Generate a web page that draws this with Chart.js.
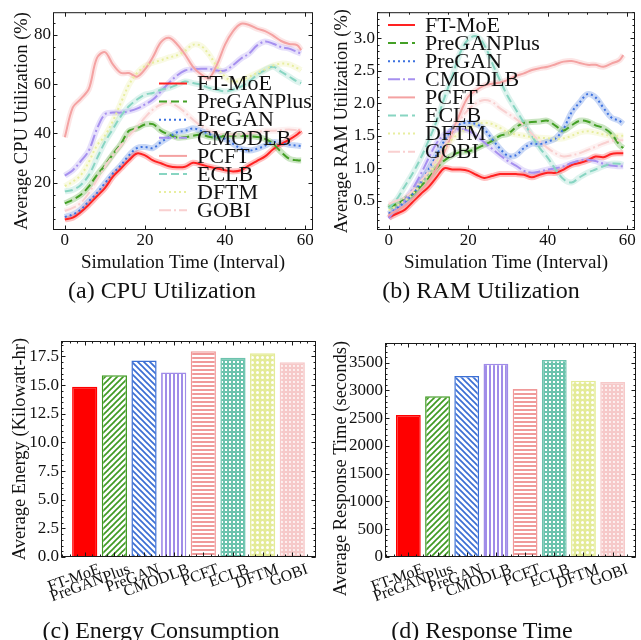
<!DOCTYPE html>
<html><head><meta charset="utf-8">
<script src="https://cdn.jsdelivr.net/npm/chart.js@4.4.0/dist/chart.umd.min.js"></script>
<style>
html,body{margin:0;padding:0;background:#fff;}
#wrap{position:relative;width:641px;height:640px;overflow:hidden;background:#fff;}
canvas{position:absolute;}
.cap{position:absolute;font-family:'Liberation Serif','Times New Roman',serif;font-size:24px;line-height:24px;color:#111;white-space:nowrap;transform:translateX(-50%);}
</style></head><body>
<div id="wrap">
<canvas id="cA" width="320" height="280" style="left:0;top:0;width:320px;height:280px"></canvas>
<canvas id="cB" width="321" height="280" style="left:320px;top:0;width:321px;height:280px"></canvas>
<canvas id="cC" width="320" height="320" style="left:0;top:320px;width:320px;height:320px"></canvas>
<canvas id="cD" width="321" height="320" style="left:320px;top:320px;width:321px;height:320px"></canvas>
<div class="cap" style="left:162px;top:278px">(a)&nbsp;CPU Utilization</div>
<div class="cap" style="left:481px;top:278px">(b)&nbsp;RAM Utilization</div>
<div class="cap" style="left:161px;top:618px">(c)&nbsp;Energy Consumption</div>
<div class="cap" style="left:482px;top:618px">(d)&nbsp;Response Time</div>
</div>
<script>
// ---------------- DATA ----------------
const methods = ['FT-MoE','PreGANPlus','PreGAN','CMODLB','PCFT','ECLB','DFTM','GOBI'];
const timeSteps = [0,2,4,6,8,10,12,14,16,18,20,22,24,26,28,30,32,34,36,38,40,42,44,46,48,50,52,54,56,58,59];
const timeTicks = [0,20,40,60];

const cpuFTMoE      = [5.0,5.7,8.0,11.0,14.4,17.7,22.4,25.7,29.0,31.8,31.0,29.0,27.8,26.6,26.2,26.4,28.0,27.3,26.4,25.7,25.0,24.5,25.0,27.0,28.8,30.6,33.5,35.6,37.4,39.5,41.0];
const cpuPreGANPlus = [11.5,13.0,15.0,18.4,23.0,27.0,31.5,35.7,41.0,42.0,43.6,43.7,41.0,39.5,38.3,38.4,39.0,39.5,38.6,38.2,39.0,39.0,39.0,38.8,38.5,37.7,35.7,32.4,29.7,29.0,29.0];
const cpuPreGAN     = [6.0,7.0,9.0,12.4,15.7,19.7,23.7,27.0,31.0,34.0,34.4,34.0,36.4,38.4,40.4,41.0,42.0,41.0,39.7,38.4,37.7,35.7,33.7,33.0,33.7,35.0,36.4,36.0,35.3,35.0,34.8];
const cpuCMODLB     = [22.8,25.0,28.7,33.0,41.7,47.7,48.4,48.4,49.0,50.0,51.7,53.7,57.0,60.5,63.5,65.5,66.0,66.2,66.2,65.5,65.5,67.7,70.4,72.4,75.7,77.3,76.4,75.0,74.4,73.0,72.4];
const cpuPCFT       = [38.4,50.5,54.0,58.0,70.5,73.0,68.0,64.5,64.5,63.0,66.0,71.0,77.0,78.8,76.2,72.0,67.0,64.0,62.5,68.0,76.0,81.5,84.5,84.0,82.5,81.5,79.7,77.5,76.3,75.8,73.8];
const cpuECLB       = [16.4,17.0,19.0,23.0,29.7,36.4,41.7,47.0,51.0,53.7,55.7,56.4,57.7,58.4,59.7,61.0,60.4,59.7,58.4,57.7,57.0,57.7,59.0,61.0,63.7,65.7,67.0,65.0,63.0,61.0,60.4];
const cpuDFTM       = [18.5,20.4,23.0,28.4,35.0,39.0,45.0,52.4,59.7,64.4,67.3,68.7,69.7,70.8,71.7,73.5,76.0,75.5,72.0,67.0,63.0,61.0,61.5,63.0,64.5,66.0,67.5,68.3,68.0,66.5,65.7];
const cpuGOBI       = [8.4,9.7,11.7,15.7,21.0,26.4,31.0,35.0,39.0,42.4,46.4,49.7,51.7,52.4,51.0,48.5,45.5,43.0,41.0,40.0,39.5,39.5,39.5,40.0,40.5,41.0,41.0,41.3,41.5,41.2,41.0];
const cpuTicks = [20,40,60,80];

const ramFTMoE      = [0.24,0.30,0.36,0.48,0.60,0.71,0.86,1.00,0.98,0.98,0.96,0.90,0.85,0.88,0.91,0.91,0.91,0.90,0.86,0.90,0.93,0.93,0.98,1.05,1.08,1.12,1.18,1.17,1.22,1.23,1.23];
const ramPreGANPlus = [0.40,0.45,0.52,0.60,0.72,0.85,1.00,1.12,1.20,1.25,1.26,1.30,1.36,1.42,1.50,1.53,1.63,1.70,1.71,1.72,1.73,1.65,1.58,1.66,1.73,1.72,1.66,1.62,1.53,1.36,1.31];
const ramPreGAN     = [0.30,0.38,0.48,0.60,0.78,0.98,1.20,1.42,1.60,1.68,1.70,1.68,1.60,1.45,1.30,1.19,1.20,1.31,1.38,1.37,1.41,1.46,1.61,1.86,2.01,2.14,2.09,1.93,1.78,1.73,1.68];
const ramCMODLB     = [0.23,0.38,0.50,0.68,0.90,1.15,1.38,1.52,1.58,1.60,1.58,1.50,1.40,1.30,1.20,1.11,1.04,0.96,0.93,0.95,0.98,1.00,1.03,1.08,1.12,1.13,1.11,1.07,1.04,1.03,1.03];
const ramPCFT       = [0.28,0.35,0.42,0.52,0.65,0.80,1.00,1.25,1.55,1.85,2.10,2.20,2.27,2.30,2.32,2.36,2.42,2.46,2.51,2.54,2.56,2.60,2.64,2.65,2.62,2.59,2.59,2.56,2.61,2.66,2.74];
const ramECLB       = [0.38,0.52,0.72,0.92,1.15,1.42,1.72,2.08,2.42,2.78,2.98,3.03,2.90,2.62,2.35,2.10,1.90,1.70,1.50,1.31,1.16,0.98,0.83,0.78,0.86,0.93,0.98,1.03,1.07,1.07,1.05];
const ramDFTM       = [0.35,0.42,0.50,0.60,0.75,0.90,1.10,1.30,1.45,1.55,1.62,1.68,1.70,1.68,1.62,1.55,1.52,1.50,1.48,1.47,1.46,1.45,1.46,1.50,1.55,1.57,1.55,1.52,1.50,1.50,1.50];
const ramGOBI       = [0.45,0.50,0.55,0.65,0.80,0.95,1.15,1.35,1.55,1.75,1.90,2.00,2.05,2.02,1.92,1.84,1.76,1.66,1.53,1.41,1.31,1.23,1.18,1.20,1.23,1.28,1.33,1.38,1.42,1.43,1.43];
const ramTicks = [0.5,1.0,1.5,2.0,2.5,3.0];

const barIndex = [0,1,2,3,4,5,6,7];
const energyValues   = [14.85,15.86,17.15,16.10,17.96,17.38,17.79,17.00];
const responseValues = [2559,2895,3261,3482,3027,3549,3176,3153];
const energyTicks   = [0.0,2.5,5.0,7.5,10.0,12.5,15.0,17.5];
const responseTicks = [0,500,1000,1500,2000,2500,3000,3500];

// ---------------- STYLE ----------------
const FONT = "'Liberation Serif','Times New Roman',serif";
Chart.defaults.font.family = FONT;
Chart.defaults.color = '#111';
const lineColors = ['#ff2222','#44a026','#3d72e0','#a690ef','#f4a2a2','#88d5c2','#e8ee9f','#f9d0d0'];
const lineDashes = [[],[8,4],[2,3],[12,3,2,3],[],[8,4],[2,3],[12,3,2,3]];
const barColors  = ['#ff0000','#3f9a22','#3b6fd4','#a08ce8','#f09a9a','#6cc3ad','#e4eb98','#f6c9c9'];

function hexA(hex,a){const n=parseInt(hex.slice(1),16);return `rgba(${n>>16&255},${n>>8&255},${n&255},${a})`;}

function makePattern(kind,color){
  const c=document.createElement('canvas');
  const s = {slash:6,back:6,vert:4,horiz:4,grid:4,circ:5,dots:4}[kind]||4;
  c.width=s;c.height=s;const g=c.getContext('2d');
  g.fillStyle='#fff';g.fillRect(0,0,s,s);
  g.strokeStyle=color;g.fillStyle=color;g.lineWidth=1.7;
  const ln=(a,b,c2,d)=>{g.beginPath();g.moveTo(a,b);g.lineTo(c2,d);g.stroke();};
  if(kind==='slash'){ln(0,s,s,0);ln(-s/2,s/2,s/2,-s/2);ln(s/2,s*1.5,s*1.5,s/2);}
  else if(kind==='back'){ln(0,0,s,s);ln(-s/2,s/2,s/2,s*1.5);ln(s/2,-s/2,s*1.5,s/2);}
  else if(kind==='vert'){g.fillRect(1,0,2,s);}
  else if(kind==='horiz'){g.fillRect(0,1,s,2);}
  else if(kind==='grid'){g.fillRect(0,0,s,s);g.fillStyle='#fff';g.fillRect(1,1,2,2);}
  else if(kind==='circ'){g.fillRect(0,0,s,s);g.fillStyle='#fff';g.beginPath();g.arc(s/2,s/2,1.5,0,Math.PI*2);g.fill();}
  else if(kind==='dots'){g.fillRect(0,0,s,s);g.fillStyle='#fff';g.beginPath();g.arc(s/2,s/2,0.9,0,Math.PI*2);g.fill();}
  return g.createPattern(c,'repeat');
}
const patternKinds = [null,'slash','back','vert','horiz','grid','circ','dots'];

// ---------------- PLUGINS ----------------
const framePlugin = {
  id:'frameTicks',
  afterDatasetsDraw(chart,args,o){
    const {ctx,chartArea:a,scales}=chart;const xs=scales.x,ys=scales.y;
    ctx.save();ctx.strokeStyle='#1a1a1a';ctx.lineWidth=1;
    const seg=(x1,y1,x2,y2)=>{ctx.beginPath();ctx.moveTo(x1,y1);ctx.lineTo(x2,y2);ctx.stroke();};
    const minors=(sc,step)=>{const r=[];for(let k=Math.ceil(sc.min/step-1e-9);k*step<=sc.max+1e-9;k++)r.push(k*step);return r;};
    const L=a.left+0.5,R=a.right-0.5,T=a.top+0.5,B=a.bottom-0.5;
    minors(xs,o.xMinor).forEach(v=>{const p=Math.round(xs.getPixelForValue(v))+0.5;seg(p,B,p,B-2);seg(p,T,p,T+2);});
    minors(ys,o.yMinor).forEach(v=>{const p=Math.round(ys.getPixelForValue(v))+0.5;seg(L,p,L+2,p);seg(R,p,R-2,p);});
    xs.ticks.forEach(t=>{const p=Math.round(xs.getPixelForValue(t.value))+0.5;seg(p,B,p,B-4);seg(p,T,p,T+4);});
    ys.ticks.forEach(t=>{const p=Math.round(ys.getPixelForValue(t.value))+0.5;seg(L,p,L+4,p);seg(R,p,R-4,p);});
    ctx.strokeRect(L,T,R-L,B-T);
    ctx.restore();
  }
};
const legendPlugin = {
  id:'inLegend',
  afterDraw(chart,args,o){
    if(!o||!o.show)return;
    const ctx=chart.ctx;const items=chart.data.datasets.filter(d=>!d.isBand);
    ctx.save();ctx.font=`${o.size}px ${FONT}`;ctx.textBaseline='middle';
    items.forEach((ds,i)=>{
      const y=o.top+i*o.row;
      ctx.save();ctx.strokeStyle=ds.borderColor;ctx.lineWidth=ds.borderWidth;ctx.setLineDash(ds.borderDash||[]);
      ctx.beginPath();ctx.moveTo(o.left,y);ctx.lineTo(o.left+o.len,y);ctx.stroke();ctx.restore();
      ctx.fillStyle='#111';ctx.fillText(ds.label,o.left+o.len+o.gap,y+1);
    });
    ctx.restore();
  }
};

// ---------------- BUILDERS ----------------
function lineDatasets(series){
  const out=[];
  series.forEach((vals,i)=>{
    const pts=timeSteps.map((t,k)=>({x:t,y:vals[k]}));
    out.push({label:methods[i]+' band',isBand:true,data:pts,borderColor:hexA(lineColors[i],0.28),borderWidth:6,pointRadius:0,tension:0.35,order:100,fill:false});
    out.push({label:methods[i],data:pts,borderColor:lineColors[i],borderWidth:2,borderDash:lineDashes[i],pointRadius:0,tension:0.35,order:20-i,fill:false});
  });
  return out;
}
function axis(opts){
  return {
    type:'linear',min:opts.min,max:opts.max,offset:false,bounds:'data',
    grid:{display:false,drawTicks:false},border:{display:false},
    afterBuildTicks:s=>{s.ticks=opts.ticks.map(v=>({value:v}));},
    afterFit:s=>{ if(opts.w!==undefined) s.width=opts.w; if(opts.h!==undefined) s.height=opts.h; },
    ticks:{autoSkip:false,font:{size:opts.fs||17},color:'#111',padding:opts.pad||0,
      minRotation:opts.rot||0,maxRotation:opts.rot||0,labelOffset:opts.lo||0,callback:opts.fmt},
    title:{display:!!opts.title,text:opts.title,font:{size:opts.tfs||18.5},color:'#111',padding:opts.tpad||0}
  };
}
function lineChart(id,series,cfg){
  return new Chart(document.getElementById(id),{
    type:'line',
    data:{datasets:lineDatasets(series)},
    options:{
      responsive:false,animation:false,devicePixelRatio:1,
      layout:{padding:cfg.padding},
      plugins:{legend:{display:false},tooltip:{enabled:false},
        frameTicks:{xMinor:5,yMinor:cfg.yMinor},
        inLegend:cfg.legend},
      scales:{
        x:axis({min:-2.95,max:61.95,ticks:timeTicks,h:cfg.xh,pad:0,fmt:v=>String(v),title:'Simulation Time (Interval)',tfs:19,tpad:{top:0,bottom:6}}),
        y:axis({min:cfg.ymin,max:cfg.ymax,ticks:cfg.yticks,w:cfg.yw,pad:2,fmt:cfg.yfmt,title:cfg.ytitle,tpad:{top:cfg.ytp,bottom:0}})
      }
    },
    plugins:[framePlugin,legendPlugin]
  });
}
function barChart(id,values,cfg){
  return new Chart(document.getElementById(id),{
    type:'bar',
    data:{datasets:[{label:cfg.label,data:barIndex.map(i=>({x:i,y:values[i]})),
      backgroundColor:barIndex.map(i=>patternKinds[i]?makePattern(patternKinds[i],barColors[i]):barColors[i]),
      borderColor:barColors,borderWidth:1.5,barPercentage:0.85,categoryPercentage:1}]},
    options:{
      responsive:false,animation:false,devicePixelRatio:1,
      layout:{padding:cfg.padding},
      plugins:{legend:{display:false},tooltip:{enabled:false},frameTicks:{xMinor:0.25,yMinor:cfg.yMinor}},
      scales:{
        x:axis({min:-0.8,max:7.8,ticks:barIndex,h:cfg.xh,pad:3,fs:16,rot:20,lo:15,fmt:v=>methods[v]}),
        y:axis({min:0,max:cfg.ymax,ticks:cfg.yticks,w:cfg.yw,pad:2,fmt:cfg.yfmt,title:cfg.ytitle,tpad:{top:cfg.ytp,bottom:0}})
      }
    },
    plugins:[framePlugin]
  });
}

lineChart('cA',[cpuFTMoE,cpuPreGANPlus,cpuPreGAN,cpuCMODLB,cpuPCFT,cpuECLB,cpuDFTM,cpuGOBI],{
  padding:{left:0,right:7,top:8,bottom:0},xh:50,yw:53,ymin:0.7,ymax:89.2,yticks:cpuTicks,yMinor:5,
  yfmt:v=>String(v),ytitle:'Average CPU Utilization (%)',ytp:11,
  legend:{show:true,left:159,top:83.5,row:18.1,len:28,gap:10,size:22}
});
lineChart('cB',[ramFTMoE,ramPreGANPlus,ramPreGAN,ramCMODLB,ramPCFT,ramECLB,ramDFTM,ramGOBI],{
  padding:{left:0,right:6,top:8,bottom:0},xh:50,yw:57,ymin:0.05,ymax:3.4,yticks:ramTicks,yMinor:0.1,
  yfmt:v=>v.toFixed(1),ytitle:'Average RAM Utilization (%)',ytp:11,
  legend:{show:true,left:68,top:25,row:18.1,len:27,gap:10,size:22}
});
barChart('cC',energyValues,{
  label:'Average Energy',padding:{left:0,right:4,top:21,bottom:0},xh:83,yw:61,ymax:18.85,yticks:energyTicks,yMinor:0.5,
  yfmt:v=>v.toFixed(1),ytitle:'Average Energy (Kilowatt-hr)',ytp:9
});
barChart('cD',responseValues,{
  label:'Average Response Time',padding:{left:0,right:5,top:23,bottom:0},xh:83,yw:65,ymax:3855,yticks:responseTicks,yMinor:100,
  yfmt:v=>String(v),ytitle:'Average Response Time (seconds)\u00a0\u00a0\u00a0\u00a0\u00a0\u00a0\u00a0\u00a0',ytp:10
});
</script>
</body></html>
